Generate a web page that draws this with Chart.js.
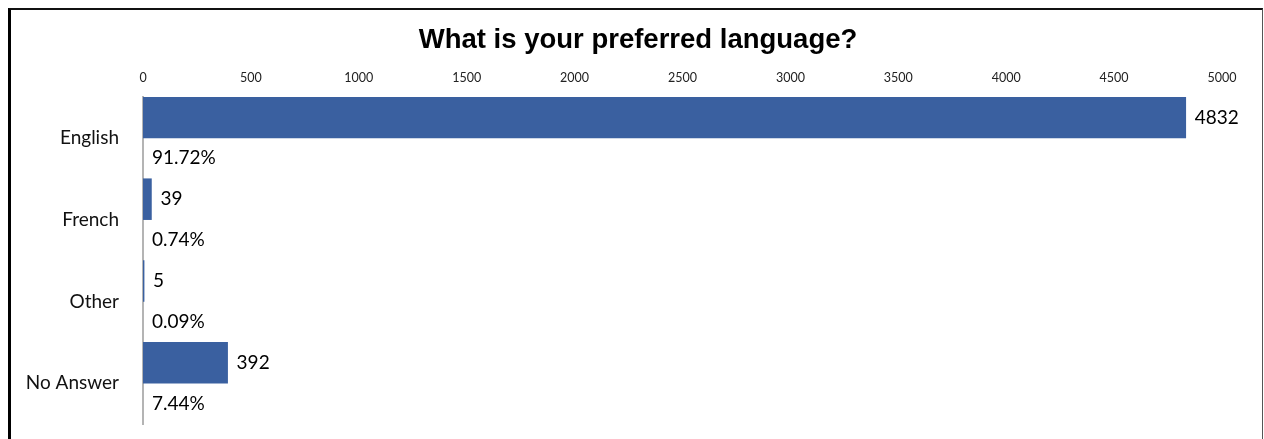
<!DOCTYPE html>
<html lang="en">
<head>
    <meta charset="UTF-8">
    <title>What is your preferred language?</title>
    <script src="https://cdn.jsdelivr.net/npm/chart.js@4"></script>
    <style>
        html, body {
            margin: 0;
            padding: 0;
            background: #ffffff;
            overflow: hidden;
        }

        .wrap {
            position: relative;
            width: 1264px;
            height: 439px;
        }

        /* frame around the chart */
        .frame {
            position: absolute;
            left: 8px;
            top: 8px;
            right: 1px;
            bottom: -10px;
            border-top: 2px solid #111;
            border-left: 3px solid #000;
            border-right: 1px solid #555;
            pointer-events: none;
        }
    </style>
</head>
<body>
    <div class="wrap">
        <canvas id="langChart" width="1264" height="439"></canvas>
        <div class="frame"></div>
    </div>

    <script>
        const categories = ['English', 'French', 'Other', 'No Answer'];
        const responses = [4832, 39, 5, 392];
        const shares = ['91.72%', '0.74%', '0.09%', '7.44%'];
        const xTicks = [0, 500, 1000, 1500, 2000, 2500, 3000, 3500, 4000, 4500, 5000];

        const labelFont = '19px Lato, "Open Sans", sans-serif';

        // count to the right of each bar, share in the empty slot under it
        const barLabels = {
            id: 'barLabels',
            afterDatasetsDraw(chart) {
                const ctx = chart.ctx;
                const bars = chart.getDatasetMeta(0).data;
                const left = chart.chartArea.left;
                ctx.save();
                ctx.font = labelFont;
                ctx.fillStyle = '#000';
                ctx.textAlign = 'left';
                ctx.textBaseline = 'middle';
                bars.forEach((bar, i) => {
                    ctx.fillText(String(responses[i]), bar.x + 9, bar.y);
                    ctx.fillText(shares[i], left + 9, bar.y + bar.height);
                });
                ctx.restore();
            }
        };

        new Chart(document.getElementById('langChart'), {
            type: 'bar',
            data: {
                labels: categories,
                datasets: [{
                    label: 'Responses',
                    data: responses,
                    backgroundColor: '#3a60a0',
                    borderWidth: 0
                }, {
                    // empty slot that holds the share labels
                    label: '',
                    data: categories.map(() => null)
                }]
            },
            options: {
                indexAxis: 'y',
                responsive: false,
                animation: false,
                categoryPercentage: 1,
                barPercentage: 1,
                layout: {
                    padding: { left: 12, right: 0, top: 0, bottom: 15 }
                },
                plugins: {
                    legend: { display: false },
                    tooltip: { enabled: false },
                    title: {
                        display: true,
                        text: 'What is your preferred language?',
                        color: '#000',
                        font: { family: '"Liberation Sans", Arial, sans-serif', size: 27.5, weight: 'bold' },
                        padding: { top: 24, bottom: 10 }
                    }
                },
                scales: {
                    x: {
                        position: 'top',
                        min: 0,
                        max: 5000,
                        afterBuildTicks(scale) {
                            scale.ticks = xTicks.map(v => ({ value: v }));
                        },
                        afterFit(scale) {
                            scale.height = 30;
                            scale.paddingRight = 42;
                        },
                        grid: { display: false, drawTicks: false },
                        border: { display: false },
                        ticks: {
                            color: '#222',
                            padding: 12,
                            maxRotation: 0,
                            font: { family: 'Lato, "Open Sans", sans-serif', size: 12.5 },
                            callback: value => String(value)
                        }
                    },
                    y: {
                        afterFit(scale) {
                            scale.width = 131;
                            scale.paddingTop = 0;
                            scale.paddingBottom = 0;
                        },
                        grid: { display: false, drawTicks: false },
                        border: { display: true, color: '#b4b4b4', width: 2 },
                        ticks: {
                            color: '#111',
                            padding: 24,
                            font: { family: 'Lato, "Open Sans", sans-serif', size: 19 }
                        }
                    }
                }
            },
            plugins: [barLabels]
        });
    </script>
</body>
</html>
